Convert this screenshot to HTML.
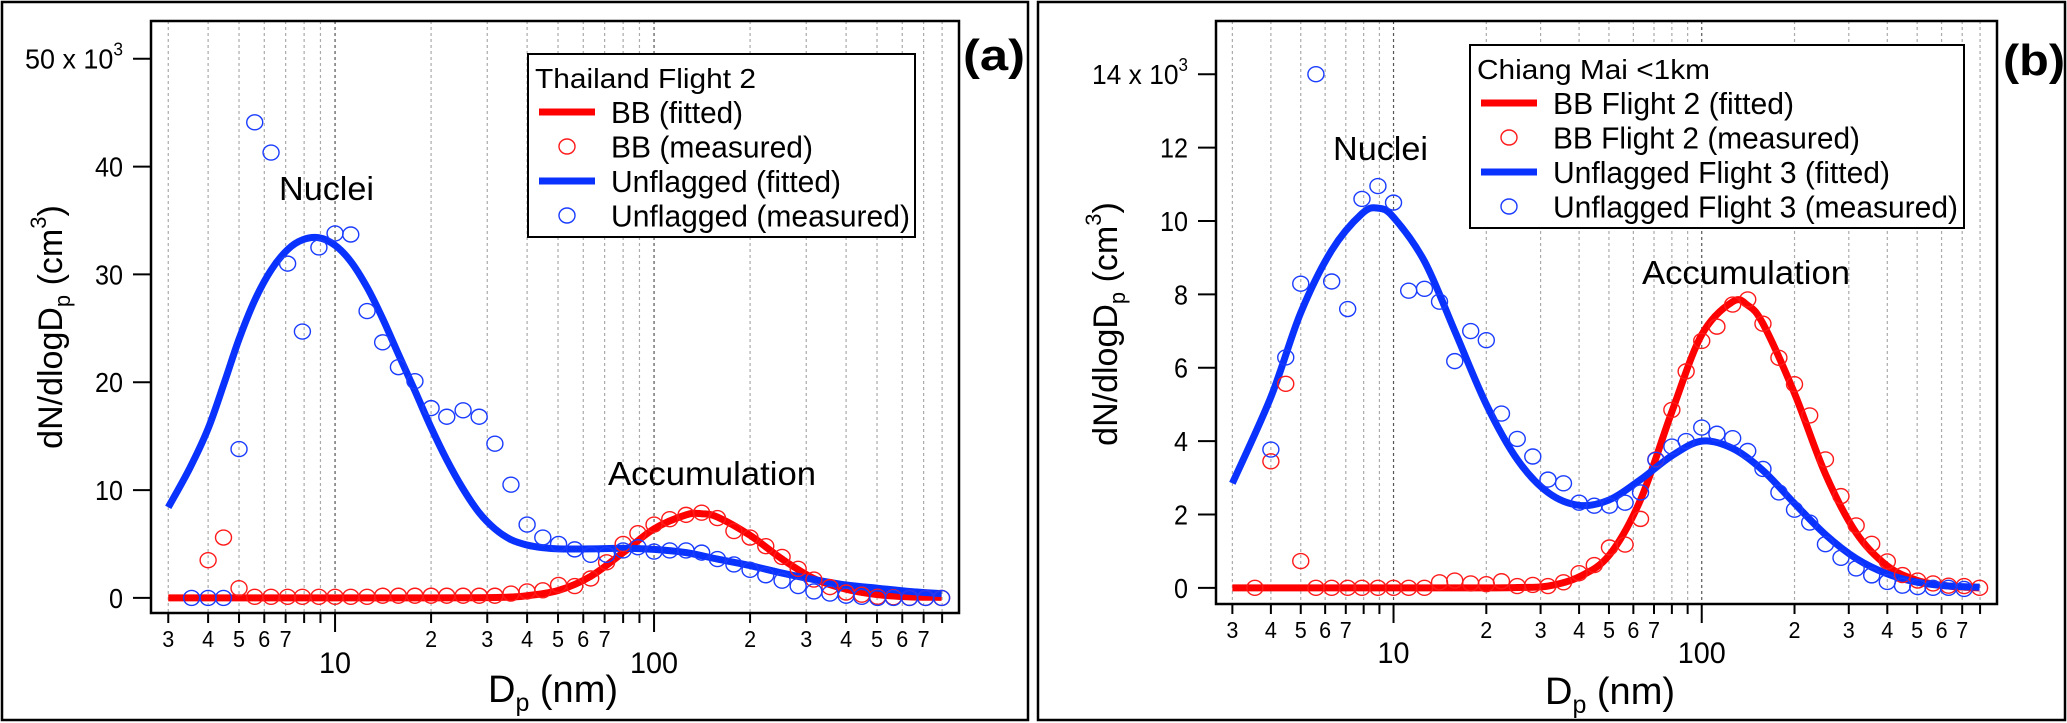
<!DOCTYPE html>
<html><head><meta charset="utf-8"><style>
html,body{margin:0;padding:0;background:#fff;}
svg{display:block;font-family:"Liberation Sans",Arial,sans-serif;}
</style></head><body>
<svg id="fig" width="2067" height="723" viewBox="0 0 2067 723" xmlns="http://www.w3.org/2000/svg">
<rect x="2" y="2" width="1026" height="718" fill="none" stroke="#000" stroke-width="2.5"/>
<rect x="1038" y="2" width="1027" height="718" fill="none" stroke="#000" stroke-width="2.5"/>
<g id="pa"></g>
<g id="pb"></g>
</svg>
<script>
// ---------- Panel (a) data ----------
const aBlueMeasX = [3.55,4.0,4.47,5.0,5.6,6.3,7.1,7.9,8.9,10,11.2,12.6,14.1,15.8,17.8,20,22.4,25.2,28.3,31.7,35.6,40,44.8,50.2,56.4,63.3,71,80,89,100,112,126,141,158,178,200,224,252,283,317,356,400,448,502,563,632,710,797];
const aBlueMeasY = [0,0,0,13.8,44.1,41.3,31.0,24.7,32.5,33.8,33.7,26.6,23.7,21.4,20.1,17.6,16.8,17.4,16.8,14.3,10.5,6.8,5.6,5.0,4.5,4.0,4.0,4.4,4.7,4.3,4.4,4.4,4.2,3.6,3.1,2.6,2.1,1.6,1.1,0.6,0.4,0.2,0.1,0,0,0,0,0];
const aRedMeasX = [4.0,4.47,5.0,5.6,6.3,7.1,7.9,8.9,10,11.2,12.6,14.1,15.8,17.8,20,22.4,25.2,28.3,31.7,35.6,40,44.8,50.2,56.4,63.3,71,80,89,100,112,126,141,158,178,200,224,252,283,317,356,400,448,502,563,632,710,797];
const aRedMeasY = [3.5,5.6,0.9,0.1,0.1,0.1,0.1,0.1,0.1,0.1,0.1,0.2,0.2,0.2,0.2,0.2,0.2,0.2,0.2,0.4,0.6,0.7,1.2,1.1,1.8,3.3,5.0,6.0,6.8,7.3,7.7,7.9,7.4,6.2,5.6,4.8,3.8,2.7,1.7,1.0,0.5,0.3,0.1,0.05,0,0,0];
const aBlueFitX = [3,3.5,4,4.5,5,5.6,6.3,7.1,7.9,8.9,10,11.2,12.6,14.1,15.8,17.8,20,22.4,25.2,28.3,31.7,35.6,40,45,50.2,63.3,80,100,126,158,200,252,317,400,502,632,797];
const aBlueFitY = [8.4,12.0,15.7,20.0,24.0,27.6,30.4,32.3,33.2,33.4,32.7,31.2,28.8,25.9,22.6,19.2,15.8,12.8,10.1,7.9,6.4,5.4,4.9,4.65,4.55,4.55,4.6,4.5,4.2,3.6,3.0,2.3,1.7,1.2,0.9,0.6,0.4];
const aRedFitX = [3,10,20,28.3,35.6,40,50.2,63.3,80,100,126,141,158,200,252,317,400,502,632,797];
const aRedFitY = [0,0,0,0.02,0.08,0.2,0.7,2.0,4.2,6.4,7.7,7.8,7.5,5.8,3.6,1.8,0.8,0.3,0.1,0.05];
const aYTicks = [0,10,20,30,40,50];
const aLegend = ["BB (fitted)","BB (measured)","Unflagged (fitted)","Unflagged (measured)"];

// ---------- Panel (b) data ----------
const bBlueMeasX = [4.0,4.47,5.0,5.6,6.3,7.1,7.9,8.9,10,11.2,12.6,14.1,15.8,17.8,20,22.4,25.2,28.3,31.7,35.6,40,44.8,50.2,56.4,63.3,71,80,89,100,112,126,141,158,178,200,224,252,283,317,356,400,448,502,563,632,710];
const bBlueMeasY = [3.77,6.28,8.29,14.0,8.35,7.6,10.6,10.95,10.5,8.1,8.15,7.8,6.18,7.0,6.75,4.75,4.06,3.58,2.95,2.85,2.32,2.24,2.24,2.32,2.6,3.49,3.85,4.0,4.37,4.2,4.08,3.73,3.24,2.6,2.13,1.78,1.19,0.82,0.53,0.34,0.16,0.06,0.02,0,0,-0.03];
const bRedMeasX = [3.55,4.0,4.47,5.0,5.6,6.3,7.1,7.9,8.9,10,11.2,12.6,14.1,15.8,17.8,20,22.4,25.2,28.3,31.7,35.6,40,44.8,50.2,56.4,63.3,71,80,89,100,112,126,141,158,178,200,224,252,283,317,356,400,448,502,563,632,710,797];
const bRedMeasY = [0,3.45,5.56,0.73,0,0,0,0,0,0,0,0,0.15,0.2,0.12,0.1,0.18,0.05,0.08,0.05,0.15,0.4,0.62,1.1,1.18,1.88,3.5,4.85,5.9,6.73,7.12,7.72,7.86,7.2,6.27,5.55,4.7,3.5,2.5,1.7,1.2,0.72,0.35,0.2,0.12,0.06,0.05,0];
const bBlueFitX = [3,4,5,6.3,7.9,8.9,10,12.6,15.8,20,25.2,31.7,40,50.2,63.3,80,100,126,158,200,252,317,400,502,632,797];
const bBlueFitY = [2.85,5.2,7.5,9.2,10.2,10.35,10.1,8.9,7.0,5.0,3.5,2.6,2.25,2.4,2.95,3.6,4.0,3.8,3.2,2.3,1.45,0.8,0.38,0.15,0.05,0.02];
const bRedFitX = [3,10,20,25.2,31.7,40,50.2,63.3,80,100,126,141,158,200,252,317,400,502,632,797];
const bRedFitY = [0,0,0,0.01,0.05,0.3,0.9,2.4,4.8,6.9,7.8,7.7,7.2,5.3,3.1,1.5,0.6,0.2,0.05,0];
const bYTicks = [0,2,4,6,8,10,12,14];
const bLegend = ["BB Flight 2 (fitted)","BB Flight 2 (measured)","Unflagged Flight 3 (fitted)","Unflagged Flight 3 (measured)"];

const NS="http://www.w3.org/2000/svg";
function mk(parent,tag,attrs,text){const e=document.createElementNS(NS,tag);for(const k in attrs)e.setAttribute(k,attrs[k]);if(text!==undefined)e.textContent=text;parent.appendChild(e);return e;}

function panel(g,cfg){
  const L=cfg.left,R=cfg.right,T=cfg.top,B=cfg.bottom;
  const sx=v=>L+(Math.log10(v)-cfg.xmin)/(cfg.xmax-cfg.xmin)*(R-L);
  const sy=v=>B-(v-cfg.ymin)/(cfg.ymax-cfg.ymin)*(B-T);
  const ticks=[3,4,5,6,7,8,9,10,20,30,40,50,60,70,80,90,100,200,300,400,500,600,700,800];
  const lbl={3:"3",4:"4",5:"5",6:"6",7:"7",20:"2",30:"3",40:"4",50:"5",60:"6",70:"7",200:"2",300:"3",400:"4",500:"5",600:"6",700:"7"};
  for(const t of ticks){
    const x=sx(t),major=(t===10||t===100);
    const gl=mk(g,'line',{x1:x,x2:x,y1:T,y2:B,stroke:major?'#555':'#aaa','stroke-width':1.2,'stroke-dasharray':'3,3'});
    
    
    const tk=mk(g,'line',{x1:x,x2:x,y1:B,y2:B+(major?19:10),stroke:'#000','stroke-width':2});
    
    
    if(lbl[t]){const tl=mk(g,'text',{x:x,y:B+34,'font-size':23,'text-anchor':'middle',textLength:12,lengthAdjust:'spacingAndGlyphs'},lbl[t]);
      
      }
    if(major){const tl=mk(g,'text',{x:x,y:B+cfg.majorDy,'font-size':30,'text-anchor':'middle',textLength:t===10?32:48,lengthAdjust:'spacingAndGlyphs'},String(t));
      
      }
  }
  cfg.yticks.forEach((v,i)=>{
    const y=sy(v);
    const tk=mk(g,'line',{x1:L-18,x2:L,y1:y,y2:y,stroke:'#000','stroke-width':2});
    
    
    const t=mk(g,'text',{x:L-28,y:y+10,'font-size':28,'text-anchor':'end'});
    
    
    if(i===cfg.yticks.length-1){t.textContent=v+" x 10";t.setAttribute('textLength',cfg.topLblW);t.setAttribute('lengthAdjust','spacingAndGlyphs');mk(t,'tspan',{dy:-13,'font-size':18},"3");}
    else {t.textContent=String(v);t.setAttribute('textLength',String(v).length*14);t.setAttribute('lengthAdjust','spacingAndGlyphs');}
  });
  const cid='clip'+cfg.id;
  const cp=mk(mk(g,'defs',{}),'clipPath',{id:cid});mk(cp,'rect',{x:L,y:T,width:R-L,height:B-T});
  const plot=mk(g,'g',{'clip-path':'url(#'+cid+')'});
  function curve(xs,ys,color,name){
    const p=xs.map((x,i)=>[sx(x),sy(ys[i])]);
    let d='M'+p[0][0]+','+p[0][1];
    for(let i=0;i<p.length-1;i++){
      const p0=p[i-1]||p[i],p1=p[i],p2=p[i+1],p3=p[i+2]||p2;
      const c1=[p1[0]+(p2[0]-p0[0])/6,p1[1]+(p2[1]-p0[1])/6],c2=[p2[0]-(p3[0]-p1[0])/6,p2[1]-(p3[1]-p1[1])/6];
      d+=' C'+c1+' '+c2+' '+p2;
    }
    const e=mk(plot,'path',{d:d,fill:'none',stroke:color,'stroke-width':7,'stroke-linejoin':'round'});
    
    
  }
  function pts(xs,ys,color,name){
    xs.forEach((x,i)=>{const c=mk(g,'ellipse',{cx:sx(x),cy:sy(ys[i]),rx:8,ry:7.5,fill:'none',stroke:color,'stroke-width':1.4});
      
      });
  }
  curve(cfg.redFitX,cfg.redFitY,'#ff0000','bb-fitted-line');
  curve(cfg.blueFitX,cfg.blueFitY,'#0a32ff','unflagged-fitted-line');
  pts(cfg.redMeasX,cfg.redMeasY,'#ff1a1a','bb-measured-point');
  pts(cfg.blueMeasX,cfg.blueMeasY,'#1a3cff','unflagged-measured-point');
  const box=mk(g,'rect',{x:L,y:T,width:R-L,height:B-T,fill:'none',stroke:'#000','stroke-width':2.5});
  
  
  const xt=mk(g,'text',{x:cfg.xtX,y:cfg.xtY,'font-size':38,'text-anchor':'middle'},"D");
  
  
  mk(xt,'tspan',{'font-size':25,dy:9},"p");mk(xt,'tspan',{dy:-9},"\u00a0(nm)");
  const yt=mk(g,'text',{x:0,y:0,'font-size':34,'text-anchor':'middle',transform:'translate('+cfg.ytX+','+cfg.ytY+') rotate(-90)'},"dN/dlogD");
  
  
  mk(yt,'tspan',{'font-size':22,dy:8},"p");mk(yt,'tspan',{dy:-8},"\u00a0(cm");mk(yt,'tspan',{'font-size':22,dy:-16},"3");mk(yt,'tspan',{dy:16},")");
  const n=mk(g,'text',{x:cfg.nucX,y:cfg.nucY,'font-size':33,textLength:95,lengthAdjust:'spacingAndGlyphs'},"Nuclei");
  
  
  const ac=mk(g,'text',{x:cfg.accX,y:cfg.accY,'font-size':33,textLength:208,lengthAdjust:'spacingAndGlyphs'},"Accumulation");
  
  
  const pl=mk(g,'text',{x:cfg.plX,y:cfg.plY,'font-size':44,'font-weight':'bold',textLength:62,lengthAdjust:'spacingAndGlyphs'},cfg.plText);
  
  
  const lg=mk(g,'g',{});
  
  
  mk(lg,'rect',{x:cfg.lgX,y:cfg.lgY,width:cfg.lgW,height:cfg.lgH,fill:'#fff',stroke:'#000','stroke-width':2});
  const tt=mk(lg,'text',{x:cfg.lgX+7,y:cfg.lgY+34,'font-size':28,textLength:cfg.lgTitleW,lengthAdjust:'spacingAndGlyphs'},cfg.lgTitle);
  
  
  const cols=['#ff0000','#ff1a1a','#0a32ff','#1a3cff'];
  cfg.legend.forEach((s,i)=>{
    const y=cfg.lgY+58+i*34.5;
    const sw=cfg.lgX+11;
    if(i%2===0)mk(lg,'line',{x1:sw,x2:sw+56,y1:y,y2:y,stroke:cols[i],'stroke-width':7});
    else mk(lg,'ellipse',{cx:sw+28,cy:y,rx:8,ry:7.5,fill:'none',stroke:cols[i],'stroke-width':1.4});
    const t=mk(lg,'text',{x:sw+72,y:y+11,'font-size':31,textLength:cfg.lgTextW[i],lengthAdjust:'spacingAndGlyphs'},s);
    
    
  });
}

panel(document.getElementById('pa'),{id:'a',left:151,right:959,top:21,bottom:613,xmin:0.423,xmax:2.956,ymin:-1.4,ymax:53.5,topLblW:98,
  yticks:aYTicks,majorDy:60,xtX:553,xtY:702,ytX:62,ytY:327,nucX:279,nucY:200,accX:608,accY:485,plX:963,plY:70,plText:"(a)",
  lgX:528,lgY:54,lgW:387,lgH:183,lgTitle:"Thailand Flight 2",lgTitleW:221,lgTextW:[132,202,230,299],legend:aLegend,
  redFitX:aRedFitX,redFitY:aRedFitY,blueFitX:aBlueFitX,blueFitY:aBlueFitY,redMeasX:aRedMeasX,redMeasY:aRedMeasY,blueMeasX:aBlueMeasX,blueMeasY:aBlueMeasY});
panel(document.getElementById('pb'),{id:'b',left:1216,right:1997,top:21,bottom:604,xmin:0.424,xmax:2.958,ymin:-0.44,ymax:15.45,topLblW:96,
  yticks:bYTicks,majorDy:59,xtX:1610,xtY:704,ytX:1117,ytY:324,nucX:1333,nucY:160,accX:1642,accY:284,plX:2003,plY:75,plText:"(b)",
  lgX:1470,lgY:45,lgW:494,lgH:183,lgTitle:"Chiang Mai <1km",lgTitleW:233,lgTextW:[241,307,337,405],legend:bLegend,
  redFitX:bRedFitX,redFitY:bRedFitY,blueFitX:bBlueFitX,blueFitY:bBlueFitY,redMeasX:bRedMeasX,redMeasY:bRedMeasY,blueMeasX:bBlueMeasX,blueMeasY:bBlueMeasY});
</script>
</body></html>
